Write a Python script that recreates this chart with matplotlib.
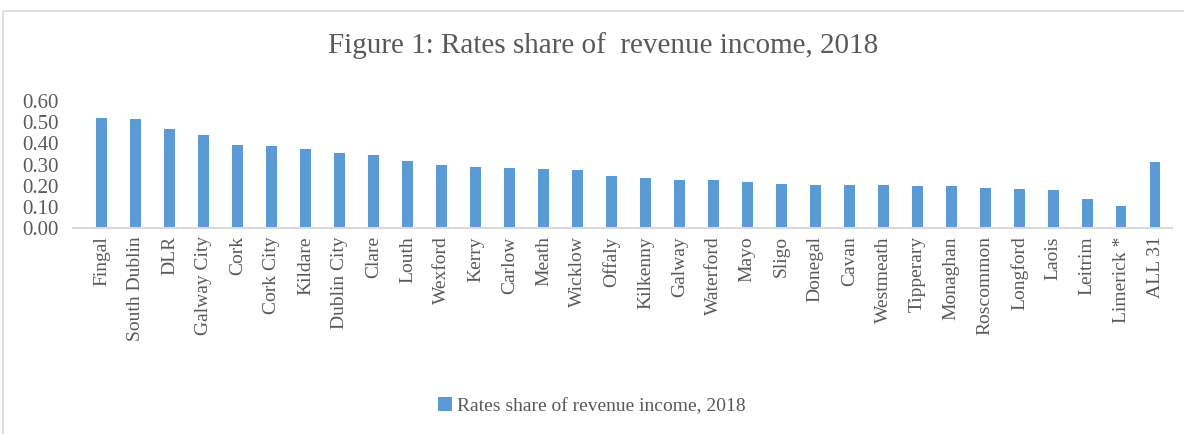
import matplotlib.pyplot as plt
from matplotlib.patches import Rectangle, Patch

# --- data
councils = ["Fingal", "South Dublin", "DLR", "Galway City", "Cork", "Cork City",
            "Kildare", "Dublin City", "Clare", "Louth", "Wexford", "Kerry",
            "Carlow", "Meath", "Wicklow", "Offaly", "Kilkenny", "Galway",
            "Waterford", "Mayo", "Sligo", "Donegal", "Cavan", "Westmeath",
            "Tipperary", "Monaghan", "Roscommon", "Longford", "Laois",
            "Leitrim", "Limerick *", "ALL 31"]
rates_share = [0.52, 0.517, 0.469, 0.44, 0.394, 0.387, 0.374, 0.355, 0.344,
               0.317, 0.298, 0.288, 0.282, 0.278, 0.272, 0.245, 0.235, 0.227,
               0.226, 0.219, 0.210, 0.205, 0.202, 0.202, 0.197, 0.197, 0.189,
               0.182, 0.178, 0.139, 0.104, 0.312]
yticks = [0.0, 0.1, 0.2, 0.3, 0.4, 0.5, 0.6]

TITLE = "Figure 1: Rates share of  revenue income, 2018"
SERIES = "Rates share of revenue income, 2018"
BAR_COLOR = "#5b9bd5"
TEXT_COLOR = "#595959"
LINE_COLOR = "#d9d9d9"

plt.rcParams["font.family"] = ["Liberation Serif", "DejaVu Serif"]

fig = plt.figure(figsize=(11.84, 4.34), dpi=100)
ax = fig.add_axes([73 / 1184, 1 - 228 / 434, (1172 - 73) / 1184, (228 - 101) / 434])

x = range(len(councils))
ax.bar(x, rates_share, width=0.32, color=BAR_COLOR, label=SERIES)

ax.set_xlim(-0.85, len(councils) - 0.5)
ax.set_ylim(0, 0.6)
ax.set_yticks(yticks)
ax.set_yticklabels([f"{v:.2f}" for v in yticks], fontsize=15, color=TEXT_COLOR)
ax.set_xticks(list(x))
ax.set_xticklabels(councils, rotation=90, fontsize=14, color=TEXT_COLOR)
ax.tick_params(axis="both", length=0)
ax.tick_params(axis="y", pad=10)
ax.tick_params(axis="x", pad=6)

for s in ["top", "right", "left"]:
    ax.spines[s].set_visible(False)
ax.spines["bottom"].set_color(LINE_COLOR)
ax.spines["bottom"].set_linewidth(1.5)

# chart title and outer frame (the source is a cropped Excel chart)
fig.text(603 / 1184, 1 - 46 / 434, TITLE, ha="center", va="center",
         fontsize=21, color=TEXT_COLOR)
fig.patches.append(Rectangle((3 / 1184, -0.05), 1.1, 1 - 11 / 434 + 0.05,
                             transform=fig.transFigure, fill=False,
                             edgecolor=LINE_COLOR, linewidth=1.2))

handles = [Patch(facecolor=BAR_COLOR, edgecolor="none", label=SERIES)]
leg = fig.legend(handles=handles, loc="center", bbox_to_anchor=(0.5, 1 - 406 / 434),
                 frameon=False, fontsize=14, handlelength=0.7, handleheight=0.7,
                 handletextpad=0.3)
for t in leg.get_texts():
    t.set_color(TEXT_COLOR)

fig.savefig("out.png", dpi=100)
